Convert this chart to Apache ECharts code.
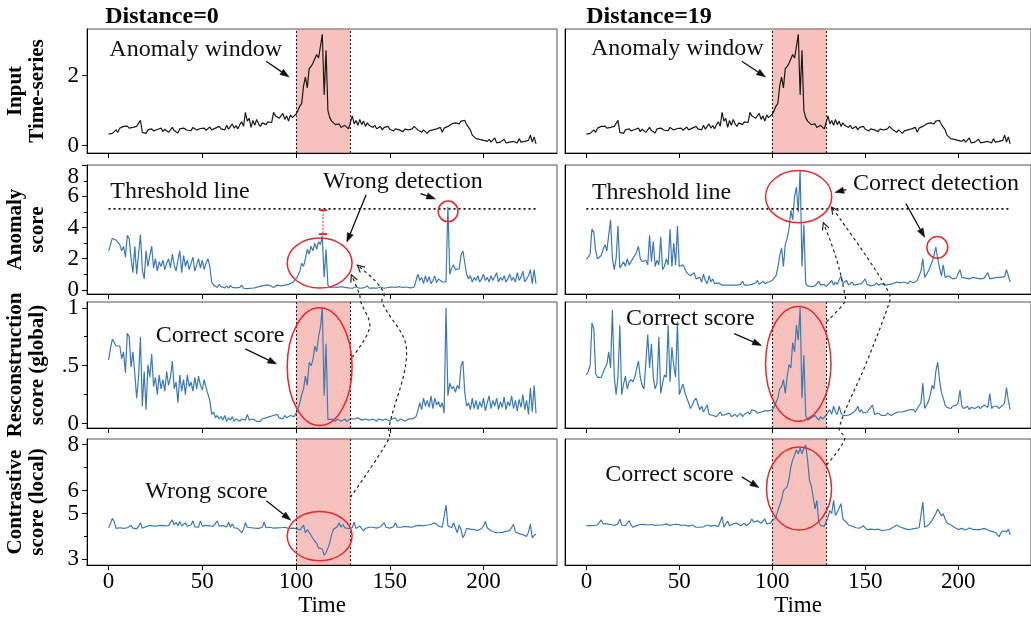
<!DOCTYPE html>
<html><head><meta charset="utf-8">
<script src="https://cdn.jsdelivr.net/npm/echarts@6/dist/echarts.min.js"></script>
<style>html,body{margin:0;padding:0;background:#fff}#c{width:1031px;height:618px}</style>
</head><body><div id="c"></div>
<script>
// ---------------- data ----------------
const xTicks = [0, 50, 100, 150, 200];
const windowStart = 100, windowEnd = 129;
const threshold = 5.2;

const inputSeries = [
0.33,0.36,0.35,0.40,0.45,0.38,0.50,0.47,0.55,0.52,
0.56,0.50,0.54,0.52,0.48,0.55,0.50,0.72,0.38,0.42,
0.35,0.45,0.40,0.48,0.42,0.38,0.46,0.44,0.50,0.40,
0.47,0.42,0.38,0.45,0.52,0.43,0.40,0.36,0.48,0.44,
0.50,0.46,0.44,0.48,0.43,0.52,0.47,0.45,0.42,0.49,
0.45,0.50,0.44,0.47,0.53,0.45,0.42,0.50,0.46,0.55,
0.48,0.52,0.45,0.58,0.47,0.55,0.62,0.50,0.57,0.48,
0.60,0.68,0.55,0.95,0.70,0.78,0.52,0.72,0.58,0.75,
0.62,0.55,0.65,0.70,0.60,0.68,0.72,0.66,0.95,0.85,
0.90,0.78,0.82,0.92,0.75,0.85,0.70,0.88,0.80,0.85,
0.90,1.00,1.13,1.20,1.70,1.96,1.65,2.20,2.26,2.35,
2.40,2.60,2.50,2.83,3.18,1.45,2.72,1.00,0.80,0.70,
0.65,0.60,0.55,0.62,0.52,0.50,0.58,0.55,0.48,0.52,
0.85,0.62,0.72,0.58,0.75,0.60,0.70,0.55,0.65,0.58,
0.55,0.52,0.58,0.48,0.50,0.55,0.45,0.52,0.48,0.55,
0.47,0.50,0.42,0.48,0.53,0.45,0.50,0.40,0.47,0.52,
0.45,0.42,0.48,0.55,0.50,0.45,0.40,0.38,0.45,0.42,
0.35,0.42,0.38,0.45,0.40,0.48,0.43,0.52,0.38,0.50,
0.45,0.55,0.52,0.62,0.58,0.65,0.68,0.62,0.70,0.66,
0.72,0.60,0.55,0.45,0.30,0.35,0.20,0.25,0.18,0.22,
0.15,0.20,0.12,0.18,0.10,0.15,0.22,0.08,0.13,0.10,
0.05,0.18,0.08,0.12,0.10,0.05,0.12,0.15,0.08,0.20,
0.10,0.05,0.12,0.08,0.15,0.30,0.10,0.25,0.05];

const anomalyLeft = [
2.5,2.9,3.3,3.35,3.2,3.15,2.9,2.5,2.8,2.1,
3.5,3.3,2.0,1.1,2.8,1.0,2.3,3.55,1.3,0.7,
2.5,1.5,2.2,2.8,1.4,2.0,1.2,1.8,1.5,1.9,
1.3,1.7,2.0,1.4,2.3,1.6,1.2,1.9,2.5,1.1,
2.2,1.5,1.9,1.3,1.7,2.1,1.2,1.6,2.0,1.4,
1.9,1.3,1.7,2.0,1.5,0.5,0.3,0.4,0.15,0.35,
0.2,0.3,0.12,0.25,0.1,0.28,0.15,0.08,0.12,0.1,
0.15,0.3,0.1,0.12,0.08,0.15,0.1,0.18,0.12,0.15,
0.2,0.15,0.25,0.18,0.3,0.22,0.28,0.2,0.15,0.25,
0.3,0.2,0.25,0.35,0.3,0.28,0.35,0.4,0.45,0.55,
0.7,0.9,1.2,1.7,1.5,2.0,2.6,2.3,2.8,2.5,
3.0,2.6,3.1,2.9,3.45,0.8,2.6,0.3,0.15,0.12,
0.18,0.1,0.15,0.12,0.2,0.1,0.15,0.22,0.12,0.18,
0.1,0.15,0.2,0.12,0.1,0.18,0.12,0.15,0.25,0.1,
0.15,0.12,0.2,0.1,0.15,0.18,0.12,0.1,0.2,0.15,
0.12,0.18,0.1,0.15,0.12,0.2,0.1,0.15,0.12,0.18,
0.15,0.12,0.2,0.18,0.3,1.0,0.6,0.8,0.4,0.9,
0.5,0.85,0.4,0.6,0.9,0.45,0.7,0.6,0.5,0.4,
0.5,5.35,1.0,1.4,1.6,1.3,1.4,1.35,2.2,2.5,
2.4,1.0,0.7,0.9,0.5,0.8,0.6,0.9,0.5,0.7,
1.0,0.6,0.8,0.5,0.9,0.6,0.7,1.1,0.5,0.8,
0.6,0.9,0.5,0.7,1.0,0.6,0.8,0.5,1.1,0.6,
0.8,1.2,0.5,0.7,0.9,1.3,0.4,1.3,0.4];

const anomalyRight = [
1.95,2.1,2.3,3.9,3.7,2.5,2.0,2.1,2.2,2.6,
2.9,2.5,2.4,4.5,2.0,1.3,2.0,4.1,1.4,1.6,
1.8,1.5,2.0,1.6,1.7,2.0,2.1,2.4,2.8,2.0,
1.8,1.7,1.9,1.6,3.5,1.8,3.1,1.5,1.9,1.6,
3.4,1.3,1.5,2.0,1.6,3.9,1.5,3.0,1.6,4.1,
1.5,1.4,1.6,1.5,1.1,1.0,0.9,0.8,1.1,0.7,
0.6,0.8,0.5,1.0,0.6,0.4,0.9,0.5,0.7,0.4,
0.35,0.45,0.35,0.3,0.35,0.3,0.4,0.3,0.35,0.3,
0.35,0.3,0.4,0.35,0.55,0.3,0.35,0.3,0.4,0.35,
0.3,0.45,0.6,0.35,0.4,0.55,0.4,0.45,0.5,0.55,
0.6,0.7,0.9,1.4,2.2,2.7,1.5,2.9,3.3,3.9,
5.1,4.5,6.0,6.6,5.0,7.7,1.5,4.2,0.4,0.25,
0.35,0.2,0.3,0.25,0.4,0.55,0.3,0.25,0.35,0.2,
0.3,0.45,0.6,0.3,0.5,0.35,0.4,0.9,0.4,0.35,
0.6,0.3,0.35,0.5,0.3,0.25,0.35,0.3,0.4,0.3,
0.7,0.35,0.3,0.25,0.35,0.3,0.45,0.3,0.35,0.4,
0.35,0.3,0.4,0.35,0.45,0.4,0.35,0.5,0.4,0.45,
0.4,0.5,0.45,0.4,0.55,0.5,0.45,0.5,0.6,0.7,
1.2,2.0,0.8,1.0,1.2,1.5,1.8,2.2,2.75,2.0,
1.4,0.9,1.6,0.8,0.7,0.9,0.8,0.7,0.8,0.75,
0.8,1.3,0.8,0.7,0.75,0.8,0.7,0.75,0.8,0.7,
0.75,0.8,0.7,0.8,0.75,0.85,1.1,0.7,0.8,0.75,
0.7,0.8,0.75,0.8,0.7,0.85,1.3,0.9,0.5];

const reconLeft = [
0.55,0.65,0.73,0.70,0.67,0.66,0.67,0.56,0.62,0.44,
0.78,0.75,0.49,0.62,0.43,0.22,0.40,0.75,0.15,0.45,
0.12,0.51,0.40,0.60,0.32,0.40,0.25,0.42,0.30,0.38,
0.28,0.45,0.33,0.40,0.54,0.30,0.36,0.18,0.42,0.28,
0.38,0.25,0.42,0.32,0.36,0.28,0.40,0.30,0.41,0.33,
0.29,0.38,0.31,0.31,0.20,0.08,0.10,0.05,0.07,0.04,
0.06,0.03,0.07,0.02,0.05,0.03,0.06,0.02,0.04,0.03,
0.02,0.04,0.05,0.03,0.08,0.03,0.02,0.04,0.03,0.02,
0.03,0.02,0.04,0.03,0.05,0.04,0.06,0.05,0.07,0.06,
0.08,0.05,0.06,0.04,0.07,0.05,0.06,0.07,0.08,0.06,
0.09,0.12,0.18,0.25,0.30,0.41,0.33,0.53,0.50,0.55,
0.67,0.62,0.75,0.83,1.00,0.24,0.69,0.035,0.03,0.04,
0.03,0.02,0.04,0.03,0.02,0.03,0.04,0.02,0.03,0.04,
0.05,0.04,0.03,0.05,0.04,0.03,0.02,0.04,0.05,0.03,
0.02,0.04,0.03,0.02,0.04,0.05,0.03,0.02,0.04,0.03,
0.02,0.04,0.03,0.05,0.02,0.03,0.04,0.03,0.02,0.03,
0.04,0.03,0.04,0.05,0.06,0.11,0.18,0.12,0.22,0.15,
0.20,0.14,0.24,0.13,0.22,0.16,0.19,0.14,0.18,0.09,
1.00,0.24,0.35,0.30,0.32,0.27,0.33,0.30,0.50,0.54,
0.27,0.15,0.18,0.12,0.22,0.13,0.20,0.12,0.19,0.14,
0.22,0.11,0.18,0.24,0.13,0.20,0.15,0.22,0.12,0.19,
0.14,0.23,0.12,0.19,0.15,0.24,0.13,0.20,0.11,0.21,
0.14,0.25,0.12,0.20,0.08,0.31,0.10,0.33,0.09];

const reconRight = [
0.42,0.45,0.50,0.87,0.82,0.43,0.40,0.41,0.40,0.44,
0.48,0.51,0.62,0.48,0.98,0.41,0.25,0.40,0.85,0.25,
0.34,0.41,0.30,0.36,0.38,0.36,0.40,0.47,0.54,0.40,
0.33,0.30,0.31,0.77,0.48,0.69,0.40,0.30,0.35,0.75,
0.26,0.35,0.42,0.40,0.85,0.36,0.66,0.50,0.40,0.88,
0.25,0.30,0.34,0.27,0.22,0.18,0.13,0.16,0.20,0.22,
0.22,0.12,0.15,0.10,0.13,0.16,0.08,0.09,0.07,0.08,
0.06,0.08,0.10,0.07,0.06,0.08,0.07,0.09,0.06,0.07,
0.08,0.06,0.07,0.09,0.06,0.08,0.07,0.10,0.08,0.12,
0.13,0.11,0.09,0.08,0.10,0.09,0.11,0.10,0.11,0.12,
0.12,0.14,0.18,0.22,0.30,0.32,0.38,0.26,0.40,0.51,
0.48,0.70,0.62,0.85,0.72,1.00,0.22,0.59,0.07,0.03,
0.015,0.05,0.04,0.07,0.05,0.03,0.06,0.04,0.05,0.07,
0.10,0.12,0.08,0.15,0.10,0.08,0.15,0.09,0.07,0.06,
0.07,0.06,0.08,0.07,0.10,0.12,0.15,0.10,0.12,0.09,
0.08,0.10,0.12,0.14,0.16,0.08,0.07,0.09,0.08,0.07,
0.08,0.07,0.09,0.08,0.07,0.08,0.09,0.08,0.10,0.09,
0.10,0.09,0.11,0.10,0.12,0.11,0.12,0.10,0.13,0.12,
0.18,0.35,0.13,0.16,0.19,0.25,0.33,0.30,0.45,0.53,
0.38,0.27,0.22,0.16,0.14,0.15,0.13,0.15,0.14,0.16,
0.18,0.29,0.15,0.13,0.14,0.15,0.12,0.14,0.15,0.13,
0.14,0.15,0.13,0.14,0.16,0.15,0.14,0.26,0.13,0.15,
0.14,0.15,0.13,0.14,0.16,0.18,0.31,0.20,0.12];

const contrastLeft = [
4.38,4.55,4.79,4.65,4.35,4.32,4.38,4.40,4.35,4.42,
4.38,4.34,4.48,4.36,4.40,4.33,4.45,4.60,4.36,4.40,
4.42,4.45,4.48,4.46,4.45,4.47,4.46,4.45,4.48,4.47,
4.46,4.48,4.47,4.50,4.72,4.50,4.62,4.47,4.65,4.45,
4.48,4.60,4.45,4.47,4.50,4.68,4.42,4.45,4.40,4.68,
4.45,4.42,4.48,4.44,4.46,4.40,4.45,4.47,4.68,4.45,
4.44,4.47,4.45,4.42,4.62,4.40,4.55,4.38,4.30,4.35,
4.25,4.16,4.30,4.60,4.40,4.35,4.38,4.34,4.36,4.38,
4.35,4.37,4.40,4.62,4.38,4.36,4.40,4.38,4.36,4.40,
4.37,4.35,4.38,4.36,4.40,4.37,4.35,4.38,4.36,4.34,
4.35,4.30,4.28,4.24,4.49,4.16,4.30,4.28,4.05,3.91,
3.79,3.70,3.50,3.55,3.45,3.18,3.30,3.50,3.72,4.09,
4.31,4.38,4.42,4.60,4.40,4.52,4.38,4.40,4.34,4.36,
4.38,4.63,4.35,4.40,4.46,4.38,4.24,4.35,4.38,4.40,
4.36,4.40,4.38,4.36,4.40,4.42,4.38,4.60,4.40,4.38,
4.36,4.40,4.42,4.60,4.40,4.38,4.40,4.42,4.44,4.40,
4.42,4.44,4.40,4.45,4.47,4.45,4.48,4.50,4.46,4.48,
4.50,4.48,4.52,4.55,4.60,4.68,4.45,4.42,4.40,4.38,
5.37,4.46,4.40,4.38,4.60,4.55,4.16,4.50,4.30,3.94,
4.10,4.35,4.30,4.32,4.28,4.30,4.24,4.26,4.30,4.35,
4.45,4.65,4.38,4.30,4.25,4.22,4.18,4.20,4.16,4.22,
4.18,4.20,4.22,4.19,4.25,4.30,4.53,4.20,4.15,4.12,
4.10,4.08,4.05,4.00,4.20,4.53,3.94,4.05,4.09];

const contrastRight = [
4.47,4.45,4.47,4.50,4.48,4.52,4.50,4.55,4.72,4.55,
4.60,4.55,4.58,4.52,4.55,4.48,4.50,4.55,4.76,4.50,
4.48,4.47,4.55,4.69,4.50,4.40,4.45,4.47,4.55,4.52,
4.50,4.53,4.48,4.50,4.47,4.52,4.50,4.48,4.52,4.50,
4.47,4.50,4.52,4.55,4.62,4.48,4.50,4.52,4.50,4.53,
4.50,4.48,4.52,4.50,4.47,4.45,4.48,4.50,4.46,4.40,
4.42,4.40,4.38,4.42,4.45,4.50,4.47,4.45,4.50,4.48,
4.45,4.42,4.50,4.87,4.40,4.55,4.66,4.47,4.50,4.55,
4.52,4.58,4.50,4.47,4.52,4.58,4.47,4.52,4.60,4.76,
4.62,4.55,4.68,4.72,4.58,4.60,4.76,4.55,4.62,4.58,
4.69,4.75,4.81,5.13,5.20,5.60,6.00,5.95,6.16,6.50,
7.04,7.34,7.40,7.78,7.60,7.85,7.60,7.85,8.00,7.34,
6.46,6.20,5.72,5.20,5.57,4.62,4.47,4.52,4.45,4.40,
4.84,5.13,5.00,5.57,4.91,5.06,5.00,5.43,4.76,4.70,
4.60,4.50,4.47,4.45,4.40,4.38,4.32,4.36,4.30,4.47,
4.40,4.30,4.35,4.32,4.28,4.30,4.25,4.32,4.28,4.25,
4.32,4.28,4.35,4.30,4.35,4.40,4.45,4.50,4.57,4.40,
4.38,4.35,4.32,4.30,4.35,4.32,4.38,4.35,4.40,4.38,
4.40,5.50,4.40,4.45,4.50,4.60,4.70,4.76,5.00,5.20,
5.05,4.90,4.99,4.76,4.60,4.55,4.50,4.45,4.40,4.32,
4.30,4.32,4.35,4.30,4.28,4.35,4.37,4.32,4.30,4.28,
4.30,4.26,4.30,4.28,4.35,4.30,4.28,4.25,4.22,4.20,
4.18,4.10,3.99,4.15,4.25,4.30,4.20,4.32,4.07];

// y-axis ticks / labels per row
const yTicksMajor = [[0, 2], [0, 2, 4, 6, 8], [0, 0.5, 1], [3, 5, 6, 8]];
const yLabelsCentered = [[0, 2], [0, 2, 4, 6], [0, 0.5, 1], [3, 5, 6, 8]];
const yLabelsTopEdge = [[], [8], [], []];
const yTicksMinor = [[], [1, 3, 5, 7], [0.25, 0.75], [4, 7]];
const yTitles = ['Input\nTime-series', 'Anomaly\nscore', 'Resconstruction\nscore (global)', 'Contrastive\nscore (local)'];
const colTitles = ['Distance=0', 'Distance=19'];

// ---------------- layout ----------------
const SERIF = '"Liberation Serif","DejaVu Serif",serif';
const COL_LEFT = [87, 565], COL_W = 470;
const ROWS = [{top: 29, h: 124}, {top: 165, h: 129}, {top: 302, h: 126}, {top: 439, h: 128}];
const YR = [[-0.21, 3.33], [-0.27, 8.02], [-0.038, 1.05], [2.75, 8.25]];
const XR = [-11.5, 239.2];
const BLUE = '#3a7ab8';

const rowData = [
  [inputSeries, inputSeries],
  [anomalyLeft, anomalyRight],
  [reconLeft, reconRight],
  [contrastLeft, contrastRight]
];

const labelStyle = {fontFamily: SERIF, fontSize: 23, color: '#000'};
const grids = [], xAxes = [], yAxes = [], series = [];
for (let r = 0; r < 4; r++) {
  for (let c = 0; c < 2; c++) {
    const gi = r * 2 + c;
    grids.push({left: COL_LEFT[c], top: ROWS[r].top, width: COL_W, height: ROWS[r].h,
      show: true, borderColor: '#555', borderWidth: 1, backgroundColor: 'transparent'});
    xAxes.push({
      type: 'value', gridIndex: gi, min: XR[0], max: XR[1], position: 'bottom',
      axisLine: {show: true, onZero: false, lineStyle: {color: '#000', width: 1}},
      axisTick: {show: true, length: 5, customValues: xTicks, lineStyle: {color: '#000'}},
      axisLabel: Object.assign({show: r === 3, customValues: xTicks, margin: 5}, labelStyle),
      splitLine: {show: false},
      name: r === 3 ? 'Time' : '', nameLocation: 'middle', nameGap: 27,
      nameTextStyle: labelStyle
    });
    const yMain = {
      type: 'value', gridIndex: gi, min: YR[r][0], max: YR[r][1], position: 'left',
      axisLine: {show: true, onZero: false, lineStyle: {color: '#000', width: 1}},
      axisTick: {show: c === 0, length: 5, customValues: yTicksMajor[r], lineStyle: {color: '#000'}},
      axisLabel: Object.assign({show: c === 0, customValues: yLabelsCentered[r], margin: 8,
        showMaxLabel: true, showMinLabel: true,
        formatter: v => (r === 2 && v === 0.5) ? '.5' : String(v)}, labelStyle),
      splitLine: {show: false}
    };
    if (c === 0) {
      yMain.name = yTitles[r];
      yMain.nameLocation = 'middle';
      yMain.nameRotate = 90;
      yMain.nameGap = 38;
      yMain.nameTextStyle = {fontFamily: SERIF, fontSize: 21, fontWeight: 'bold', color: '#000', lineHeight: 22};
    }
    yAxes.push(yMain);
    const yi = yAxes.length - 1;
    if (c === 0 && yTicksMinor[r].length) {
      yAxes.push({type: 'value', gridIndex: gi, min: YR[r][0], max: YR[r][1], position: 'left',
        axisLine: {show: false, onZero: false}, axisLabel: {show: false}, splitLine: {show: false},
        axisTick: {show: true, length: 3, customValues: yTicksMinor[r], lineStyle: {color: '#000'}}});
    }
    if (c === 0 && yLabelsTopEdge[r].length) {
      yAxes.push({type: 'value', gridIndex: gi, min: YR[r][0], max: YR[r][1], position: 'left',
        axisLine: {show: false, onZero: false}, axisTick: {show: false}, splitLine: {show: false},
        axisLabel: Object.assign({show: true, customValues: yLabelsTopEdge[r], margin: 8,
          showMaxLabel: true, verticalAlign: 'top'}, labelStyle)});
    }
    series.push({
      type: 'line', xAxisIndex: gi, yAxisIndex: yi, showSymbol: false, symbol: 'none',
      data: rowData[r][c].map((v, i) => [i, v]),
      lineStyle: {width: 1.2, color: r === 0 ? '#1a1a1a' : BLUE}, z: 2, silent: true
    });
    if (r === 1) {
      series.push({
        type: 'line', xAxisIndex: gi, yAxisIndex: yi, symbol: 'none', silent: true,
        data: [[0, threshold], [228, threshold]],
        lineStyle: {width: 1.6, color: '#111', type: [2, 3]}, z: 3
      });
    } else {
      series.push({
        type: 'line', xAxisIndex: gi, yAxisIndex: yi, symbol: 'none', silent: true, data: [], z: 5,
        markArea: {silent: true, itemStyle: {color: 'rgba(236,110,100,0.42)'},
          data: [[{xAxis: windowStart}, {xAxis: windowEnd}]]},
        markLine: {silent: true, symbol: 'none', label: {show: false},
          lineStyle: {color: '#222', width: 1.1, type: [2, 2]},
          data: [{xAxis: windowStart}, {xAxis: windowEnd}]}
      });
    }
  }
}

const chart = echarts.init(document.getElementById('c'), null, {renderer: 'canvas'});
chart.setOption({
  animation: false,
  backgroundColor: '#fff',
  title: [
    {text: colTitles[0], left: 157, top: 0, textAlign: 'center', textStyle: {fontFamily: SERIF, fontSize: 24, fontWeight: 'bold', color: '#000'}},
    {text: colTitles[1], left: 644, top: 0, textAlign: 'center', textStyle: {fontFamily: SERIF, fontSize: 24, fontWeight: 'bold', color: '#000'}}
  ],
  grid: grids, xAxis: xAxes, yAxis: yAxes, series: series
});

// ---------------- annotations ----------------
const P = (gi, t, v) => chart.convertToPixel({gridIndex: gi}, [t, v]);
const RED = '#e8282a';
const els = [];
const FONT = '24px ' + SERIF;
function text(gi, t, v, s) {
  const p = P(gi, t, v);
  els.push({type: 'text', x: p[0], y: p[1], z: 20,
    style: {text: s, font: FONT, fill: '#111', textAlign: 'left', textVerticalAlign: 'middle'}});
}
function head(a, b, filled) {
  const dx = b[0] - a[0], dy = b[1] - a[1], L = Math.hypot(dx, dy) || 1;
  const ux = dx / L, uy = dy / L, hl = filled ? 9 : 7, hw = filled ? 3.2 : 3.5;
  const bx = b[0] - ux * hl, by = b[1] - uy * hl;
  const l = [bx - uy * hw, by + ux * hw], r = [bx + uy * hw, by - ux * hw];
  if (filled) {
    els.push({type: 'polygon', z: 20, shape: {points: [b, l, r]}, style: {fill: '#111', stroke: '#111', lineWidth: 0.5}});
    return [bx, by];
  }
  els.push({type: 'polyline', z: 20, shape: {points: [l, b, r]}, style: {fill: 'none', stroke: '#222', lineWidth: 1.2}});
  return b;
}
function arrow(gi, t0, v0, t1, v1) {
  const a = P(gi, t0, v0), b = P(gi, t1, v1);
  const e = head(a, b, true);
  els.push({type: 'line', z: 20, shape: {x1: a[0], y1: a[1], x2: e[0], y2: e[1]}, style: {stroke: '#111', lineWidth: 1.3}});
}
function ellipse(gi, t0, t1, vTop, vBot, lw) {
  const a = P(gi, t0, vTop), b = P(gi, t1, vBot);
  els.push({type: 'ellipse', z: 19, shape: {cx: (a[0] + b[0]) / 2, cy: (a[1] + b[1]) / 2,
    rx: Math.abs(b[0] - a[0]) / 2, ry: Math.abs(b[1] - a[1]) / 2},
    style: {fill: 'none', stroke: RED, lineWidth: lw || 1.5}});
}
function curve(pts) {
  els.push({type: 'polyline', z: 18, shape: {points: pts, smooth: 0.35},
    style: {fill: 'none', stroke: '#222', lineWidth: 1.2, lineDash: [3, 3]}});
  head(pts[pts.length - 2], pts[pts.length - 1], false);
}

// row 1
text(0, 0.4, 2.74, 'Anomaly window');  arrow(0, 84, 2.41, 96.3, 1.96);
text(1, 2.5, 2.78, 'Anomaly window');  arrow(1, 83.6, 2.41, 96.4, 1.96);
// row 2 left
text(2, 0.9, 6.29, 'Threshold line');
text(2, 114.4, 6.96, 'Wrong detection');
arrow(2, 137.4, 6.11, 127.1, 3.07);
arrow(2, 166.4, 6.18, 174.4, 5.84);
ellipse(2, 95.3, 129.9, 3.33, 0.11);
ellipse(2, 175.8, 186.4, 5.70, 4.38);
(function () {
  const a = P(2, 114.4, 5.12), b = P(2, 114.4, 3.58);
  els.push({type: 'line', z: 19, shape: {x1: a[0], y1: a[1], x2: b[0], y2: b[1]}, style: {stroke: '#f07070', lineWidth: 1.5, lineDash: [2, 1.5]}});
  els.push({type: 'line', z: 19, shape: {x1: a[0] - 4, y1: a[1], x2: a[0] + 4, y2: a[1]}, style: {stroke: RED, lineWidth: 2}});
  els.push({type: 'line', z: 19, shape: {x1: b[0] - 4, y1: b[1], x2: b[0] + 4, y2: b[1]}, style: {stroke: RED, lineWidth: 2}});
})();
// row 2 right
text(3, 3.0, 6.21, 'Threshold line');
text(3, 143.5, 6.84, 'Correct detection');
arrow(3, 139.9, 6.44, 133.7, 6.26);
arrow(3, 171.9, 5.54, 182, 3.37);
ellipse(3, 96.4, 132, 7.66, 4.31);
ellipse(3, 183.2, 194.4, 3.42, 2.03);
// row 3
text(4, 25.2, 0.756, 'Correct score'); arrow(4, 72.9, 0.645, 89.7, 0.515);
ellipse(4, 95.3, 129.9, 1.0, -0.017);
text(5, 21.3, 0.909, 'Correct score'); arrow(5, 79.5, 0.777, 94.2, 0.675);
ellipse(5, 96.4, 131.6, 1.012, 0.021);
// row 4
text(6, 19.6, 5.93, 'Wrong score'); arrow(6, 84.1, 5.56, 97.2, 4.71);
ellipse(6, 95.3, 129.9, 5.09, 2.94);
text(7, 10.1, 6.68, 'Correct score'); arrow(7, 83.6, 6.60, 92.8, 6.13);
ellipse(7, 96.9, 131.9, 7.90, 4.28);

// dotted connectors
curve([P(4, 129.9, 0.573), P(4, 139.3, 0.834), P(4, 134.6, 1.05), P(2, 133.8, -0.27), P(2, 129.5, 0.96)]);
curve([P(6, 129, 5.71), P(6, 149.5, 8.25), P(4, 149.5, -0.038), P(4, 158.9, 0.645), P(4, 145.8, 1.05), P(2, 147, -0.27), P(2, 142, 0.6), P(2, 132.7, 1.58)]);
curve([P(5, 129.2, 0.88), P(5, 139, 1.05), P(3, 139, -0.27), P(3, 134.5, 2.0), P(3, 127.5, 4.31)]);
curve([P(7, 129.2, 7.12), P(7, 139, 8.25), P(5, 136, -0.038), P(5, 150, 0.5), P(5, 163, 1.047), P(3, 163, -0.27), P(3, 151.5, 2.0), P(3, 131.9, 5.32)]);

chart.setOption({graphic: {elements: els}});
</script></body></html>
